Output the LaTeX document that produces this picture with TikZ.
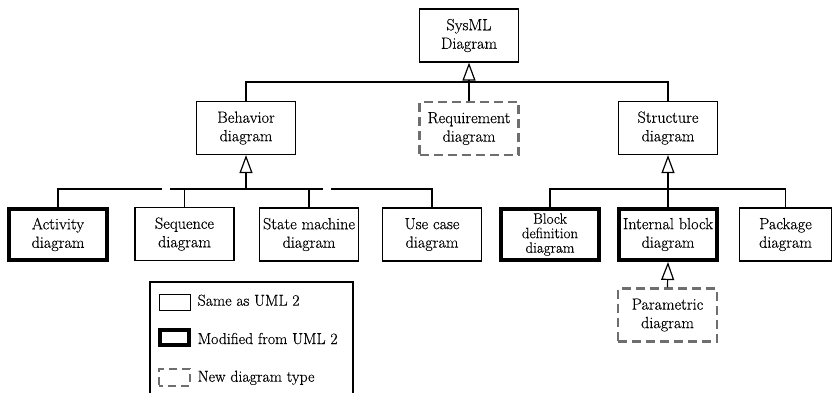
\documentclass[tikz,border=0pt]{standalone}
\usepackage{fontspec}
\setmainfont{Latin Modern Roman}[FakeBold=0.35]
\usetikzlibrary{arrows.meta}
\definecolor{dgray}{RGB}{110,110,110}
\begin{document}
\begin{tikzpicture}[x=1pt,y=-1pt,
  box/.style={draw, line width=1.2pt, minimum width=99pt, minimum height=53pt, inner sep=0pt, align=center, font=\fontsize{16.2}{18.5}\selectfont},
  thickbox/.style={box, line width=4pt, minimum width=98pt, minimum height=51pt},
  newbox/.style={box, draw=dgray, line width=2.2pt, dash pattern=on 9pt off 5pt},
  conn/.style={line width=1.2pt},
  gen/.style={conn, -{Triangle[open,length=18pt,width=13pt]}},
  legtext/.style={anchor=base west, inner sep=0pt, font=\fontsize{15.8}{18}\selectfont}]
\useasboundingbox (0,0) rectangle (833,393);

% nodes
\node[box] (sysml) at (469,35.5) {SysML\\Diagram};
\node[box] (beh) at (246,128) {Behavior\\diagram};
\node[newbox] (req) at (469,128.5) {Requirement\\diagram};
\node[box] (str) at (668,128) {Structure\\diagram};
\node[thickbox] (act) at (58,234.5) {Activity\\diagram};
\node[box] (seq) at (184.5,234) {Sequence\\diagram};
\node[box] (sm) at (309,234.5) {State machine\\diagram};
\node[box] (uc) at (432,234.5) {Use case\\diagram};
\node[thickbox, font=\fontsize{15}{14.5}\selectfont] (bdd) at (550,234.5) {Block\\definition\\diagram};
\node[thickbox] (ibd) at (668,234.5) {Internal block\\diagram};
\node[box, minimum width=92pt] (pkg) at (785.5,234.5) {Package\\diagram};
\node[newbox] (par) at (667.5,315) {Parametric\\diagram};

% top level
\coordinate (j0) at (469,82);
\draw[gen] (j0) -- (sysml);
\draw[conn] (beh.north) |- (j0) -| (str.north);
\draw[conn] (j0) -- (req.north);

% behavior tree
\coordinate (j1) at (246,189);
\coordinate (g1a) at (162,189);
\coordinate (g1b) at (170,189);
\coordinate (g2a) at (323,189);
\coordinate (g2b) at (331,189);
\draw[gen] (j1) -- (beh);
\draw[conn] (act.north) |- (g1a);
\draw[conn] (g1b) -- (g2a);
\draw[conn] (uc.north) |- (g2b);
\draw[conn] (seq.north) -- (seq.north |- j1);
\draw[conn] (sm.north) -- (sm.north |- j1);

% structure tree
\coordinate (j2) at (668,189);
\draw[gen] (j2) -- (str);
\draw[conn] (bdd.north) |- (j2) -| (pkg.north);
\draw[conn] (j2) -- (ibd.north);
\draw[gen] (par.north) -- (ibd.south);

% legend
\draw[conn] (150,398) -- (150,282) -- (353,282) -- (353,398);
\node[draw, line width=1.2pt, minimum width=31pt, minimum height=16pt, inner sep=0pt] (ls1) at (175,302.5) {};
\node[draw, line width=4pt, minimum width=29pt, minimum height=15pt, inner sep=0pt] (ls2) at (174.5,337.5) {};
\node[draw=dgray, line width=2.2pt, dash pattern=on 8pt off 5pt, dash phase=4pt, minimum width=31pt, minimum height=17pt, inner sep=0pt] (ls3) at (174.5,377.5) {};
\node[legtext] (lt1) at (197.5,305.7) {Same as UML 2};
\node[legtext] (lt2) at (197.5,344) {Modified from UML 2};
\node[legtext] (lt3) at (197.5,381.7) {New diagram type};
\end{tikzpicture}
\end{document}
